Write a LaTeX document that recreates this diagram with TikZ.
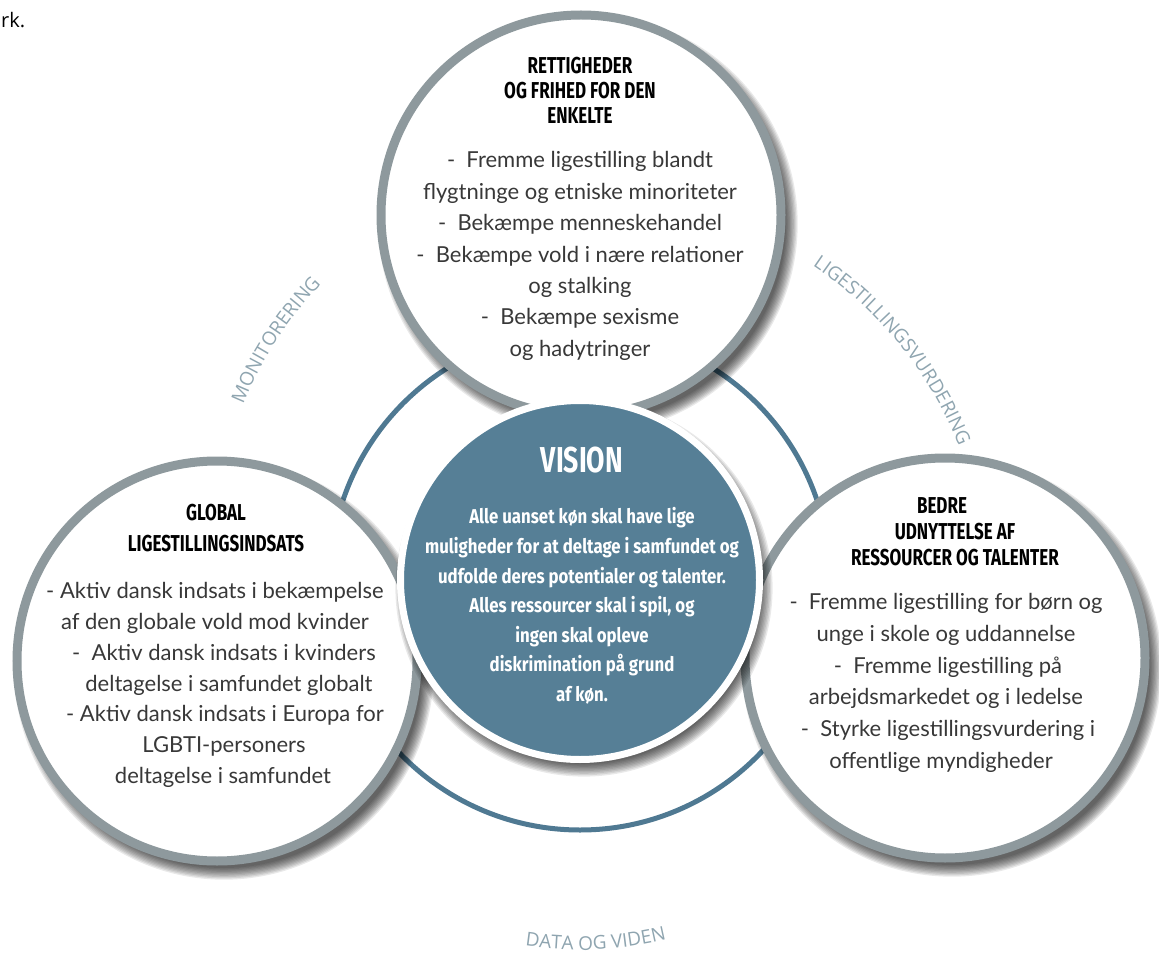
\documentclass[tikz,border=0pt]{standalone}
\usepackage{fontspec}
\setmainfont{Lato}
\newfontfamily\headfont[FakeStretch=0.74]{Fira Sans}
\newfontfamily\visionfont[FakeStretch=0.84]{Fira Sans}
\newfontfamily\labelfont{Open Sans}
\usetikzlibrary{decorations.text}

\begin{document}
\begin{tikzpicture}[x=1pt,y=-1pt,
  outercircle/.style={circle, draw=circlegray, line width=9pt, fill=white,
    minimum size=400pt, inner sep=0pt},
  softshadow/.style={fill=black, opacity=0.085},
  heading/.style={align=center, inner sep=0pt,
    font=\headfont\bfseries\fontsize{23}{25}\selectfont},
  bodytext/.style={align=center, inner sep=0pt, text=black!78,
    font=\fontsize{22}{31.4}\selectfont},
  arclabel/.style={decorate, decoration={text along path, text align=center,
    text color=labelgray, text={|\labelfont\fontsize{19}{19}\selectfont|#1}}}]

  % Define colors
  \definecolor{circlegray}{RGB}{142,153,157}
  \definecolor{ringblue}{RGB}{79,121,146}
  \definecolor{visionblue}{RGB}{86,127,150}
  \definecolor{labelgray}{RGB}{143,165,176}

  \useasboundingbox (0,0) rectangle (1159,957);
  \fill[white] (0,0) rectangle (1159,957);

  \node[anchor=base west, inner sep=0pt, font=\labelfont\fontsize{20}{24}\selectfont]
    (pagetext) at (1,28) {rk.};

  % Ring behind the circles
  \draw[ringblue, line width=5pt] (580,580) circle (250);

  % Words along the ring
  \path[arclabel=MONITORERING] (596,548) ++(193:381) arc[start angle=193, end angle=233, radius=381];
  \path[arclabel=LIGESTILLINGSVURDERING] (594,592) ++(293:393) arc[start angle=293, end angle=349, radius=393];
  \path[arclabel=DATA OG VIDEN] (580,580) ++(110:370) arc[start angle=110, end angle=65, radius=370];

  % Draw the three outer circles, each with a soft shadow
  \foreach \name/\x/\y in {rettigheder/581/215, global/217/661, bedre/945/658} {
    \foreach \k in {0,...,9}
      \fill[softshadow] (\x+7,\y+9) circle (198+1.3*\k);
    \node[outercircle] (\name) at (\x,\y) {};
  }

  % Vision in the middle
  \foreach \k in {0,...,9}
    \fill[softshadow] (584,588) circle (176+1.4*\k);
  \node[circle, draw=white, line width=7pt, fill=visionblue, minimum size=359pt, inner sep=0pt]
    (vision) at (580,580) {};

  % Texts
  \node[heading] (rettighederhead) at (580,90) {RETTIGHEDER\\OG FRIHED FOR DEN\\ENKELTE};
  \node[bodytext] (rettighederbody) at (580,256) {-~~Fremme ligestilling blandt\\
    flygtninge og etniske minoriteter\\
    -~~Bekæmpe menneskehandel\\
    -~~Bekæmpe vold i nære relationer\\
    og stalking\\
    -~~Bekæmpe sexisme\\
    og hadytringer};

  \node[heading, font=\headfont\bfseries\fontsize{23}{31}\selectfont] (globalhead) at (216,528)
    {GLOBAL\\LIGESTILLINGSINDSATS};
  \node[bodytext, font=\fontsize{22}{30.8}\selectfont] (globalbody) at (215,685) {- Aktiv dansk indsats i bekæmpelse\\
    af den globale vold mod kvinder\\
    \hspace*{18pt}-~~Aktiv dansk indsats i kvinders\\
    \hspace*{28pt}deltagelse i samfundet globalt\\
    \hspace*{20pt}- Aktiv dansk indsats i Europa for\\
    \hspace*{18pt}LGBTI-personers\\
    \hspace*{16pt}deltagelse i samfundet};

  \node[heading, font=\headfont\bfseries\fontsize{23}{26}\selectfont] (bedrehead) at (955,532)
    {BEDRE\hspace*{26pt}\\UDNYTTELSE AF\hspace*{22pt}\\RESSOURCER OG TALENTER};
  \node[bodytext, font=\fontsize{22}{31.8}\selectfont] (bedrebody) at (946,683) {-~~Fremme ligestilling for børn og\\
    unge i skole og uddannelse\hspace*{10pt}\\
    \hspace*{4pt}-~~Fremme ligestilling på\\
    arbejdsmarkedet og i ledelse\hspace*{10pt}\\
    \hspace*{4pt}-~~Styrke ligestillingsvurdering i\\
    offentlige myndigheder\hspace*{10pt}};

  \node[heading, text=white, font=\headfont\bfseries\fontsize{36}{36}\selectfont] (visionhead) at (582,460) {VISION};
  \node[heading, text=white, font=\visionfont\bfseries\fontsize{20}{29.6}\selectfont] (visionbody) at (582,606)
    {Alle uanset køn skal have lige\\
    muligheder for at deltage i samfundet og\\
    udfolde deres potentialer og talenter.\\
    Alles ressourcer skal i spil, og\\
    ingen skal opleve\\
    diskrimination på grund\\
    af køn.};
\end{tikzpicture}
\end{document}
